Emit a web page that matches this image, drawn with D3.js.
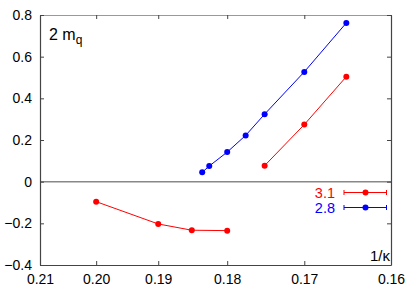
<!DOCTYPE html>
<html><head><meta charset="utf-8">
<script src="https://cdn.jsdelivr.net/npm/d3@7"></script>
<style>body{margin:0;background:#fff}svg{display:block;font-family:"Liberation Sans",Arial,sans-serif}</style>
</head><body><svg id="c" width="409" height="303"></svg>
<script>
const xTicks = [0.21, 0.20, 0.19, 0.18, 0.17, 0.16];
const yTicks = [-0.4, -0.2, 0, 0.2, 0.4, 0.6, 0.8];
const redLowX = [0.20, 0.19, 0.185, 0.18];
const redLowY = [-0.096, -0.203, -0.233, -0.235];
const redLowErr = [0, 0, 0, 0.01];
const redHighX = [0.175, 0.17, 0.165];
const redHighY = [0.077, 0.274, 0.504];
const blueX = [0.1835, 0.1825, 0.18, 0.1775, 0.175, 0.17, 0.165];
const blueY = [0.045, 0.075, 0.142, 0.222, 0.324, 0.527, 0.762];
const legendLabels = ["3.1", "2.8"];
const colors = ["#ff0000", "#0000ff"];

const svg = d3.select("#c");
const L = 40, R = 391, T = 15, B = 265;
const k = d3.scaleLinear().domain([1/0.21, 1/0.16]).range([L, R]);
const x = v => k(1/v);
const y = d3.scaleLinear().domain([-0.4, 0.8]).range([B, T]);

// zero line
svg.append("line").attr("x1", L).attr("x2", R).attr("y1", y(0)).attr("y2", y(0))
  .attr("stroke", "#888").attr("stroke-width", 1.5);

// axes
const kx = xTicks.map(v => 1/v);
const fmtX = d => (1/d).toFixed(2);
const axB = svg.append("g").attr("transform", `translate(0,${B})`)
  .call(d3.axisBottom(k).tickValues(kx).tickFormat(fmtX).tickSizeInner(-4).tickSizeOuter(0).tickPadding(9));
const axT = svg.append("g").attr("transform", `translate(0,${T})`)
  .call(d3.axisTop(k).tickValues(kx).tickFormat("").tickSizeInner(-4).tickSizeOuter(0));
const fmtY = d => d === 0 ? "0" : d3.format(".1f")(d);
const axL = svg.append("g").attr("transform", `translate(${L},0)`)
  .call(d3.axisLeft(y).tickValues(yTicks).tickFormat(fmtY).tickSizeInner(-4).tickSizeOuter(0).tickPadding(8));
const axR = svg.append("g").attr("transform", `translate(${R},0)`)
  .call(d3.axisRight(y).tickValues(yTicks).tickFormat("").tickSizeInner(-4).tickSizeOuter(0));
[axB, axT, axL, axR].forEach(g => {
  g.select(".domain").attr("stroke", "#444").attr("stroke-width", 1.2);
  g.selectAll(".tick line").attr("stroke", "#444");
  g.selectAll("text").attr("font-size", 14).attr("fill", "#000")
    .attr("font-family", '"Liberation Sans",Arial,sans-serif');
});
axT.select(".domain").attr("stroke", "#999");

const line = d3.line().x(d => x(d[0])).y(d => y(d[1]));
function series(xs, ys, c, errs) {
  const d = xs.map((v, i) => [v, ys[i], errs ? errs[i] : 0]);
  svg.append("path").datum(d).attr("d", line).attr("fill", "none").attr("stroke", c).attr("stroke-width", 1);
  d.forEach(p => {
    if (p[2] > 0) {
      svg.append("line").attr("x1", x(p[0])).attr("x2", x(p[0]))
        .attr("y1", y(p[1] - p[2])).attr("y2", y(p[1] + p[2])).attr("stroke", c).attr("stroke-width", 1.5);
    }
  });
  svg.append("g").selectAll("circle").data(d).join("circle")
    .attr("cx", p => x(p[0])).attr("cy", p => y(p[1])).attr("r", 3).attr("fill", c);
}
series(redLowX, redLowY, colors[0], redLowErr);
series(redHighX, redHighY, colors[0]);
series(blueX, blueY, colors[1]);

// legend
legendLabels.forEach((lab, i) => {
  const ly = 192.5 + i * 15;
  svg.append("text").attr("x", 335).attr("y", ly + 5).attr("text-anchor", "end")
    .attr("font-size", 14.5).attr("fill", colors[i]).text(lab);
  const g = svg.append("g").attr("stroke", colors[i]).attr("stroke-width", 1);
  g.append("line").attr("x1", 344).attr("x2", 386.5).attr("y1", ly).attr("y2", ly);
  g.append("line").attr("x1", 344).attr("x2", 344).attr("y1", ly - 2.5).attr("y2", ly + 2.5);
  g.append("line").attr("x1", 386.5).attr("x2", 386.5).attr("y1", ly - 2.5).attr("y2", ly + 2.5);
  svg.append("circle").attr("cx", 365.5).attr("cy", ly).attr("r", 3).attr("fill", colors[i]);
});

// labels
const t = svg.append("text").attr("x", 49).attr("y", 40).attr("font-size", 16).attr("fill", "#000");
t.append("tspan").text("2 m");
t.append("tspan").attr("font-size", 12).attr("dy", 4).text("q");
svg.append("text").attr("x", 390).attr("y", 261).attr("text-anchor", "end")
  .attr("font-size", 15).attr("fill", "#000").text("1/κ");
</script></body></html>
